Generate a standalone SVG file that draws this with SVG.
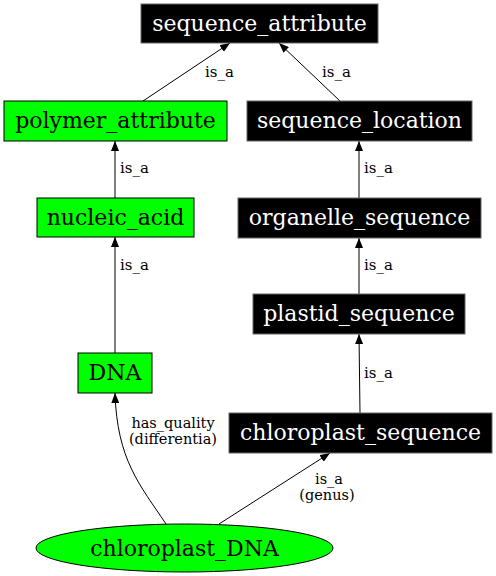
<svg xmlns="http://www.w3.org/2000/svg" width="496" height="576" viewBox="0 0 496 576">
<defs>
<marker id="ah" markerWidth="10" markerHeight="8" refX="10" refY="4" orient="auto" markerUnits="userSpaceOnUse">
<path d="M0,0 L10,4 L0,8 Z" fill="#000"/>
</marker>
<style>
.bk rect{fill:#000;stroke:#666;stroke-width:1}
.gr rect,.gr ellipse{fill:#00ff00;stroke:#000;stroke-width:1}
.nt{font-family:"DejaVu Serif",serif;font-size:22px;text-anchor:middle}
.bk .nt{fill:#fff}
.gr .nt{fill:#000}
.el{font-family:"DejaVu Serif",serif;font-size:15px;fill:#000}
.e2{font-size:14.5px}
.e{fill:none;stroke:#000;stroke-width:1;marker-end:url(#ah)}
</style>
</defs>
<rect width="496" height="576" fill="#fff"/>
<g id="connectors">
<path class="e" d="M143,101 L230,43"/>
<path class="e" d="M340,101 L279,43"/>
<path class="e" d="M115,198 L115,141"/>
<path class="e" d="M115,353 L115,237"/>
<path class="e" d="M359,198 L359,141"/>
<path class="e" d="M359,294 L359,238"/>
<path class="e" d="M360,413 L359,334"/>
<path class="e" d="M166,524 C140,485 117,460 115,393"/>
<path class="e" d="M219,524 L330,453"/>
<text class="el" x="205" y="77">is_a</text>
<text class="el" x="322" y="77">is_a</text>
<text class="el" x="120" y="173">is_a</text>
<text class="el" x="120" y="270">is_a</text>
<text class="el" x="364" y="173">is_a</text>
<text class="el" x="364" y="270">is_a</text>
<text class="el" x="364" y="378">is_a</text>
<text class="el e2" x="173" y="428" text-anchor="middle">has_quality</text>
<text class="el e2" x="173" y="444" text-anchor="middle">(differentia)</text>
<text class="el e2" x="329" y="484" text-anchor="middle">is_a</text>
<text class="el e2" x="327" y="500" text-anchor="middle">(genus)</text>
</g>
<g id="sequence_attribute" class="bk"><rect x="141" y="4" width="237" height="39"/><text class="nt" x="259.5" y="30.5">sequence_attribute</text></g>
<g id="polymer_attribute" class="gr"><rect x="4" y="101" width="223" height="40"/><text class="nt" x="115.5" y="127.5">polymer_attribute</text></g>
<g id="sequence_location" class="bk"><rect x="247" y="101" width="225" height="40"/><text class="nt" x="359.5" y="127.5">sequence_location</text></g>
<g id="nucleic_acid" class="gr"><rect x="37" y="198" width="157" height="39"/><text class="nt" x="115.5" y="224.5">nucleic_acid</text></g>
<g id="organelle_sequence" class="bk"><rect x="238" y="198" width="243" height="40"/><text class="nt" x="359.5" y="224.5">organelle_sequence</text></g>
<g id="plastid_sequence" class="bk"><rect x="253" y="294" width="212" height="40"/><text class="nt" x="359" y="320.5">plastid_sequence</text></g>
<g id="DNA" class="gr"><rect x="78" y="353" width="74" height="40"/><text class="nt" x="115" y="379.5">DNA</text></g>
<g id="chloroplast_sequence" class="bk"><rect x="229" y="413" width="263" height="40"/><text class="nt" x="360.5" y="439.5">chloroplast_sequence</text></g>
<g id="chloroplast_DNA" class="gr"><ellipse cx="184.5" cy="548" rx="148.5" ry="24"/><text class="nt" x="184.5" y="555.5">chloroplast_DNA</text></g>
</svg>
